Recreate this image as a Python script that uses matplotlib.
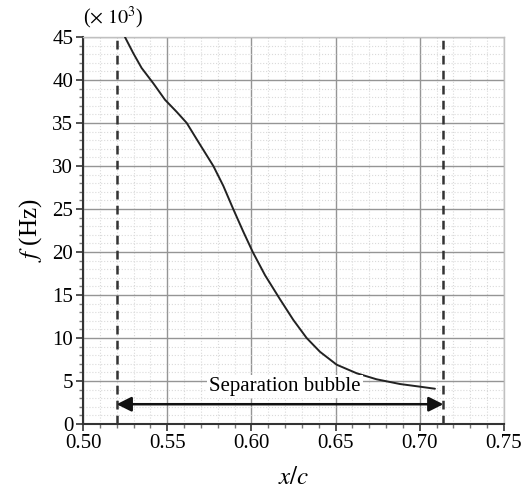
import numpy as np
import matplotlib.pyplot as plt
from matplotlib.ticker import MultipleLocator

plt.rcParams['font.family'] = ['Liberation Serif', 'DejaVu Serif']
plt.rcParams['mathtext.fontset'] = 'stix'

# curva de frequencia (f em kHz)
x_c = [0.5249, 0.5299, 0.5348, 0.5418, 0.5487, 0.5556, 0.5616, 0.5685,
       0.5774, 0.5833, 0.5892, 0.5951, 0.6008, 0.6081,
       0.6170, 0.6249, 0.6328, 0.6407, 0.6506, 0.6625, 0.6743, 0.6882,
       0.7001, 0.7090]
f_khz = [45.0, 43.1, 41.4, 39.6, 37.7, 36.3, 35.0, 32.8,
         30.0, 27.7, 25.0, 22.4, 20.0, 17.3,
         14.5, 12.1, 10.0, 8.4, 6.9, 5.9, 5.2, 4.65,
         4.34, 4.1]

# limites da bolha de separacao
bubble_start = 0.520
bubble_end = 0.714
arrow_y = 2.3

fig = plt.figure(figsize=(5.21, 4.93), dpi=100)
ax = fig.add_axes([83/521, 1 - 424/493, (504-83)/521, (424-37)/493])

ax.set_xlim(0.50, 0.75)
ax.set_ylim(0, 45)
ax.xaxis.set_major_locator(MultipleLocator(0.05))
ax.xaxis.set_minor_locator(MultipleLocator(0.01))
ax.yaxis.set_major_locator(MultipleLocator(5))
ax.yaxis.set_minor_locator(MultipleLocator(1))

ax.grid(which='major', color='#959595', lw=1.0)
ax.grid(which='minor', color='#dadada', lw=0.8, linestyle=':')
ax.set_axisbelow(True)

for s in ['top', 'right']:
    ax.spines[s].set_color('#c0c0c0')
    ax.spines[s].set_linewidth(1.0)
for s in ['left', 'bottom']:
    ax.spines[s].set_color('#333333')
    ax.spines[s].set_linewidth(1.5)

ax.tick_params(which='major', direction='out', length=5, width=1.2, color='#333333',
               labelsize=15, pad=2)
ax.tick_params(which='minor', direction='out', length=3, width=1.0, color='#777777')
ax.set_xticklabels([f"{v:.2f}" for v in ax.get_xticks()])

ax.plot(x_c, f_khz, color='#222222', lw=1.4, zorder=3,
        solid_joinstyle='round', solid_capstyle='round')

for xv in [bubble_start, bubble_end]:
    ax.axvline(xv, color='#333333', lw=1.8, linestyle=(0, (3.5, 2.5)), zorder=3)

ax.annotate('', xy=(bubble_end, arrow_y), xytext=(bubble_start, arrow_y),
            arrowprops=dict(arrowstyle='<|-|>', color='#111111', lw=1.8,
                            mutation_scale=22, shrinkA=0, shrinkB=0), zorder=4)
ax.text(0.6201, 4.4, 'Separation bubble', ha='center', va='center', fontsize=15,
        bbox=dict(facecolor='white', edgecolor='none', pad=1.5), zorder=5)

ax.set_xlabel(r'$x/c$', fontsize=18, labelpad=10)
ax.set_ylabel(r'$f$ (Hz)', fontsize=18, labelpad=6)
fig.text(83/521, 1 - 18/493, r'($\times\ 10^3$)', ha='left', va='center', fontsize=14.5)

fig.savefig('out.png', dpi=100)
